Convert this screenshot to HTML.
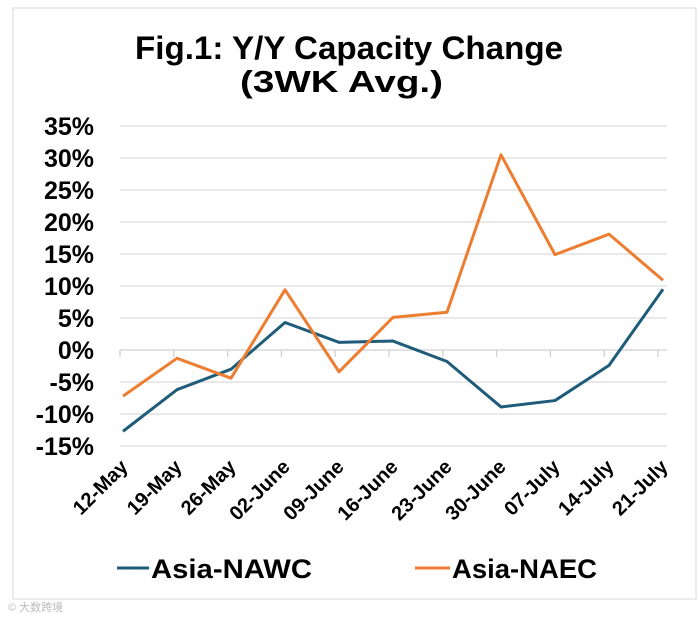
<!DOCTYPE html>
<html><head><meta charset="utf-8"><style>
html,body{margin:0;padding:0;background:#fff;}
svg{display:block;font-family:"Liberation Sans",sans-serif;font-weight:bold;}
</style></head><body>
<svg id="chart" width="700" height="620" viewBox="0 0 700 620">
<rect x="13" y="8" width="683" height="591" fill="#fff" stroke="#d9d9d9"/>
<text x="135" y="59" font-size="32" textLength="428" lengthAdjust="spacingAndGlyphs" fill="#000">Fig.1: Y/Y Capacity Change</text>
<text x="240" y="92" font-size="31" textLength="203" lengthAdjust="spacingAndGlyphs" fill="#000">(3WK Avg.)</text>
<g id="grid"></g><g id="ylabels"></g><g id="xlabels"></g><g id="series"></g>
<g>
<line x1="117" y1="568" x2="149" y2="568" stroke="#1f5c7a" stroke-width="3"/>
<text x="151" y="578" font-size="27" textLength="161" lengthAdjust="spacingAndGlyphs">Asia-NAWC</text>
<line x1="415" y1="568" x2="450" y2="568" stroke="#ed7d31" stroke-width="3"/>
<text x="452" y="578" font-size="27" textLength="145" lengthAdjust="spacingAndGlyphs">Asia-NAEC</text>
</g>
<text x="8" y="611" font-size="11" fill="#bbb" font-weight="normal" font-family="Liberation Sans, Noto Sans CJK SC, sans-serif">© 大数跨境</text>
</svg>
<script>
const categories=["12-May","19-May","26-May","02-June","09-June","16-June","23-June","30-June","07-July","14-July","21-July"];
const nawc=[-12.7,-6.2,-3.0,4.3,1.2,1.4,-1.8,-8.9,-7.9,-2.4,9.5];
const naec=[-7.2,-1.3,-4.4,9.4,-3.4,5.1,5.9,30.5,14.9,18.1,10.9];
const yTicks=[35,30,25,20,15,10,5,0,-5,-10,-15];
const NS="http://www.w3.org/2000/svg";
const xL=120,xR=667,x0=123,step=(663-123)/10;
function xs(i){return x0+i*step;}
function ys(v){return 350-v*(446-350)/(-15)*-1;}
function mk(t,a,p){const e=document.createElementNS(NS,t);for(const k in a)e.setAttribute(k,a[k]);p.appendChild(e);return e;}
const grid=document.getElementById('grid'),yl=document.getElementById('ylabels'),xl=document.getElementById('xlabels'),se=document.getElementById('series');
yTicks.forEach(v=>{
 const y=ys(v);
 const g=mk('line',{x1:xL,x2:xR,y1:y,y2:y,stroke:v===0?'#d0d0d0':'#dcdcdc','stroke-width':1.3},grid);
 
 
 const t=mk('text',{x:94,y:y+9,'font-size':25,'text-anchor':'end'},yl);
 t.textContent=v+'%';
 
 
});
categories.forEach((c,i)=>{
 const x=xL+i*((658-120)/10);
 const tk=mk('line',{x1:x,x2:x,y1:ys(0),y2:ys(0)+7,stroke:'#d0d0d0','stroke-width':1.3},grid);
 
 
 const px=xs(i)+6,py=468;
 const t=mk('text',{x:px,y:py,'font-size':20,'text-anchor':'end',transform:`rotate(-45 ${px} ${py})`},xl);
 t.textContent=c;
 
 
});
function line(d,col,name){
 const p=mk('polyline',{points:d.map((v,i)=>xs(i)+','+ys(v)).join(' '),fill:'none',stroke:col,'stroke-width':3,'stroke-linejoin':'round'},se);
 
 
}
line(nawc,'#1f5c7a','line-asia-nawc');
line(naec,'#ed7d31','line-asia-naec');
</script>
</body></html>
